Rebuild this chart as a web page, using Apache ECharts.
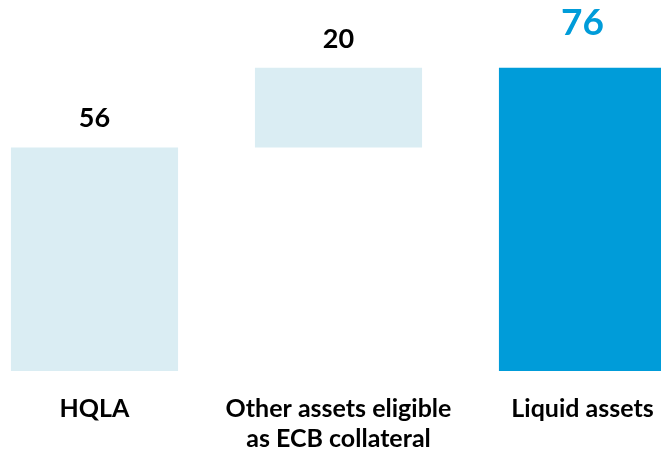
<!DOCTYPE html>
<html>
<head>
<meta charset="utf-8">
<script src="https://cdn.jsdelivr.net/npm/echarts@6/dist/echarts.min.js"></script>
<style>
  html, body { margin: 0; padding: 0; background: #ffffff; }
  #chart { width: 661px; height: 456px; }
</style>
</head>
<body>
<div id="chart"></div>
<script>
// Liquidity buffer bridge: HQLA + other ECB-eligible assets = liquid assets
const categories = ['HQLA', 'Other assets eligible\nas ECB collateral', 'Liquid assets'];
const baseValues = [0, 56, 0];     // invisible offset under each floating bar
const barValues = [56, 20, 76];    // visible bar heights (and their labels)

const LIGHT = '#daedf3';
const DARK = '#009cd9';
const barColors = [LIGHT, LIGHT, DARK];
const labelColors = ['#000000', '#000000', DARK];
const labelSizes = [27, 27, 37];
const labelGaps = [16, 15, 26];

const chart = echarts.init(document.getElementById('chart'));

chart.setOption({
  animation: false,
  grid: {
    left: -27.5, right: -43.5, top: 0, bottom: 85,
    containLabel: false,
    outerBoundsMode: 'none'
  },
  xAxis: {
    type: 'category',
    data: categories,
    axisLine: { show: false },
    axisTick: { show: false },
    axisLabel: {
      interval: 0,
      margin: 23,
      color: '#000000',
      fontFamily: 'Lato',
      fontWeight: 'bold',
      fontSize: 25,
      lineHeight: 30
    }
  },
  yAxis: {
    type: 'value',
    min: 0,
    max: 93,
    show: false,
    splitLine: { show: false }
  },
  series: [
    {
      type: 'bar',
      stack: 'bridge',
      barWidth: '68.5%',
      itemStyle: { color: 'transparent' },
      emphasis: { disabled: true },
      data: baseValues
    },
    {
      type: 'bar',
      stack: 'bridge',
      barWidth: '68.5%',
      emphasis: { disabled: true },
      data: barValues.map((v, i) => ({
        value: v,
        itemStyle: { color: barColors[i] },
        label: {
          show: true,
          position: 'top',
          distance: labelGaps[i],
          color: labelColors[i],
          fontFamily: 'Lato',
          fontWeight: 'bold',
          fontSize: labelSizes[i]
        }
      }))
    }
  ]
});
</script>
</body>
</html>
